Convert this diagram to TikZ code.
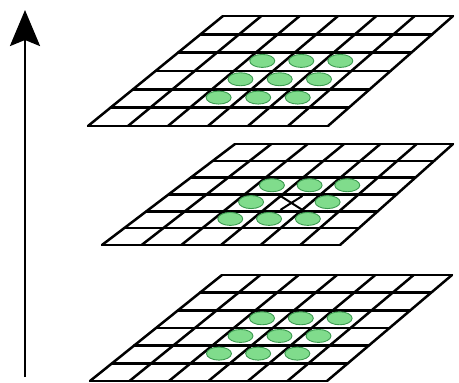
\documentclass[tikz,border=0pt]{standalone}
\usetikzlibrary{calc,arrows.meta,shapes.geometric}
\definecolor{ellfill}{HTML}{80DC8C}
\definecolor{elldraw}{HTML}{3C9A50}
\tikzset{
  gridline/.style={line width=2.5pt, line cap=round, black},
  blob/.style={ellipse, draw=elldraw, fill=ellfill, line width=0.9pt, minimum width=25pt, minimum height=13pt, inner sep=0pt},
  axisarrow/.style={line width=2.8pt, -{Stealth[length=36pt,width=30pt,inset=6pt]}},
  crossmark/.style={line width=2pt, black}
}
\newcommand{\pyrgrid}[6]{%
  \coordinate (#1-tl) at #2;
  \coordinate (#1-tr) at #3;
  \coordinate (#1-bl) at #4;
  \coordinate (#1-br) at #5;
  \foreach \k in {0,...,6}{
    \draw[gridline] ($(#1-tl)!\k/6!(#1-tr)$) -- ($(#1-bl)!\k/6!(#1-br)$);
    \draw[gridline] ($(#1-tl)!\k/6!(#1-bl)$) -- ($(#1-tr)!\k/6!(#1-br)$);
  }
  \foreach \gc/\gr in {#6}{
    \pgfmathsetmacro\gu{(\gc+0.42)/6}
    \pgfmathsetmacro\gv{(\gr+0.45)/6}
    \coordinate (#1-t) at ($(#1-tl)!\gu!(#1-tr)$);
    \coordinate (#1-b) at ($(#1-bl)!\gu!(#1-br)$);
    \node[blob] (#1-e\gc\gr) at ($(#1-t)!\gv!(#1-b)$) {};
  }
}
\begin{document}
\begin{tikzpicture}[x=1pt,y=-1pt]
\useasboundingbox (0,0) rectangle (459,383);
% axis arrow
\coordinate (arrow-start) at (25,377);
\coordinate (arrow-end) at (25,10);
\draw[axisarrow] (arrow-start) -- (arrow-end);
% top grid
\pyrgrid{top}{(223,16)}{(453,16)}{(88,126)}{(328,126)}{2/2,3/2,4/2,2/3,3/3,4/3,2/4,3/4,4/4}
% middle grid
\pyrgrid{mid}{(235,144)}{(453,144)}{(102,245)}{(340,245)}{2/2,3/2,4/2,2/3,4/3,2/4,3/4,4/4}
% cross in centre cell of middle grid
\pgfmathsetmacro\cu{3.5/6}
\coordinate (mid-ct) at ($(mid-tl)!\cu!(mid-tr)$);
\coordinate (mid-cb) at ($(mid-bl)!\cu!(mid-br)$);
\coordinate (mid-x) at ($(mid-ct)!\cu!(mid-cb)$);
\draw[crossmark] ($(mid-x)+(-11,-7)$) -- ($(mid-x)+(11,7)$);
\draw[crossmark] ($(mid-x)+(-11,7)$) -- ($(mid-x)+(11,-7)$);
% bottom grid
\pyrgrid{bot}{(222,275)}{(452,275)}{(90,381)}{(327,381)}{2/2,3/2,4/2,2/3,3/3,4/3,2/4,3/4,4/4}
\end{tikzpicture}
\end{document}
